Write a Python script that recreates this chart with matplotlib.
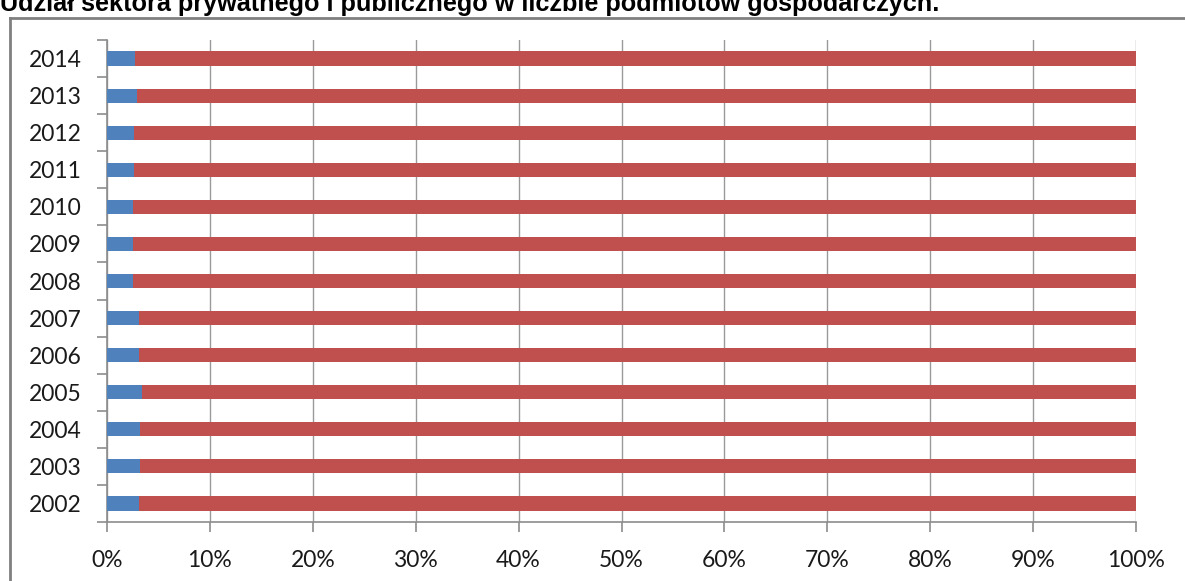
import matplotlib
matplotlib.use("Agg")
import matplotlib.pyplot as plt
from matplotlib.lines import Line2D
import numpy as np

# data (share in %)
years = ['2002', '2003', '2004', '2005', '2006', '2007', '2008',
         '2009', '2010', '2011', '2012', '2013', '2014']
publiczny = [3.15, 3.25, 3.25, 3.4, 3.15, 3.15, 2.5, 2.5, 2.5, 2.6, 2.65, 2.9, 2.7]
prywatny = [100 - v for v in publiczny]

title = 'Udział sektora prywatnego i publicznego w liczbie podmiotów gospodarczych.'

W, H = 1185, 581
fig = plt.figure(figsize=(W / 100, H / 100), dpi=100)
ax = fig.add_axes([107 / W, 1 - 522 / H, (1136 - 107) / W, (522 - 40) / H])

y = np.arange(len(years))
ax.barh(y, publiczny, height=0.38, color='#4F81BD', zorder=3)
ax.barh(y, prywatny, left=publiczny, height=0.38, color='#C0504D', zorder=3)

ax.set_xlim(0, 100)
ax.set_ylim(-0.5, len(years) - 0.5)
ax.set_xticks(np.arange(0, 101, 10))
ax.set_xticklabels(['%d%%' % v for v in range(0, 101, 10)])
ax.set_yticks(y)
ax.set_yticklabels(years)
ax.set_yticks(np.arange(-0.5, len(years), 1), minor=True)

for s in ['top', 'right']:
    ax.spines[s].set_visible(False)
for s in ['left', 'bottom']:
    ax.spines[s].set_color('#8c8c8c')
    ax.spines[s].set_linewidth(1.2)

ax.xaxis.grid(True, color='#9a9a9a', linewidth=1.0, zorder=0)
ax.tick_params(axis='x', length=7, width=1.2, color='#8c8c8c', pad=13,
               labelsize=16.5, labelcolor='#1a1a1a')
ax.tick_params(axis='y', which='major', length=0, pad=18,
               labelsize=16.5, labelcolor='#1a1a1a')
ax.tick_params(axis='y', which='minor', length=7, width=1.2, color='#8c8c8c')
for lbl in ax.get_xticklabels() + ax.get_yticklabels():
    lbl.set_family('Lato')

# outer frame (cut off at right and bottom)
fig.add_artist(Line2D([10 / W, 10 / W], [0, 1 - 18 / H], color='#808080', linewidth=2))
fig.add_artist(Line2D([10 / W, 1], [1 - 18 / H, 1 - 18 / H], color='#808080', linewidth=2))

# title is cropped at the top edge in the source image
fig.text(0, 1 - 11 / H, title, fontsize=18.2, fontweight='bold',
         family='Liberation Sans', va='baseline', ha='left', color='black')

fig.savefig('out.png', dpi=100)
